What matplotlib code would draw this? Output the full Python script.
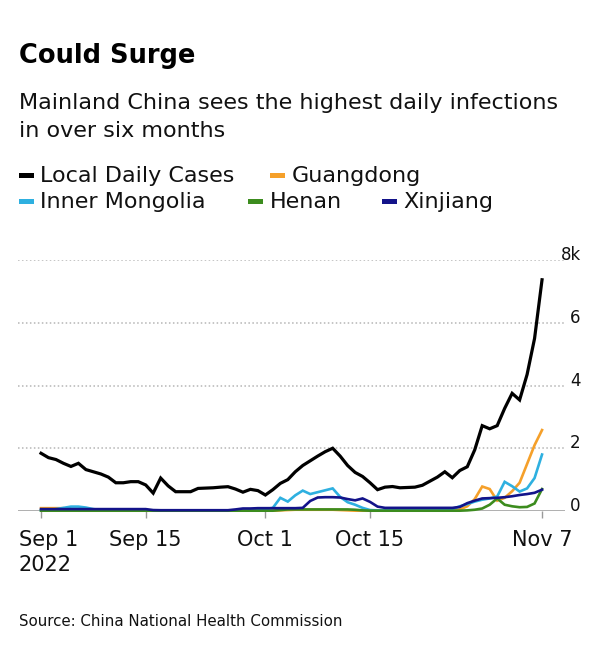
import numpy as np
import pandas as pd
import matplotlib
matplotlib.use('Agg')
import matplotlib.pyplot as plt
import matplotlib.transforms as mtransforms
from matplotlib.patches import Rectangle

# daily cases, Sep 1 - Nov 7 2022
dates = pd.date_range('2022-09-01', '2022-11-07', freq='D')

local_cases = [1840, 1700, 1640, 1520, 1420, 1520, 1320, 1250, 1180, 1080,
               900, 900, 935, 935, 830, 570, 1050, 800, 615, 615,
               615, 720, 730, 740, 760, 775, 700, 600, 690, 650,
               510, 680, 880, 1000, 1250, 1450, 1600, 1750, 1890, 2000,
               1750, 1450, 1230, 1100, 900, 680, 760, 780, 740, 750,
               760, 820, 950, 1080, 1250, 1060, 1290, 1410, 1950, 2720, 2620,
               2720, 3270, 3750, 3540, 4350, 5500, 7370]
guangdong = [90, 90, 90, 90, 30, 10, 10, 10, 10, 10,
             10, 10, 10, 10, 10, 10, 10, 10, 10, 10,
             10, 10, 10, 10, 10, 10, 10, 10, 10, 10,
             10, 10, 20, 30, 40, 40, 40, 40, 40, 40,
             30, 20, 10, 10, 10, 10, 10, 10, 10, 10,
             10, 10, 10, 10, 10, 20, 50, 150, 380, 780, 700,
             330, 420, 630, 900, 1500, 2100, 2580]
inner_mongolia = [20, 30, 60, 100, 140, 140, 110, 60, 30, 20,
                  15, 15, 15, 15, 15, 15, 15, 15, 15, 15,
                  15, 15, 15, 15, 15, 15, 15, 15, 15, 20,
                  60, 100, 420, 300, 500, 650, 540, 600, 660, 720,
                  450, 280, 200, 100, 30, 20, 20, 20, 20, 20,
                  20, 20, 20, 20, 30, 60, 150, 220, 300, 360, 400,
                  460, 930, 790, 620, 720, 1050, 1800]
henan = [10, 10, 10, 10, 10, 10, 10, 10, 10, 10,
         10, 10, 10, 10, 10, 10, 10, 10, 10, 10,
         10, 10, 10, 10, 10, 10, 10, 10, 10, 10,
         10, 10, 30, 50, 50, 50, 50, 50, 50, 50,
         50, 50, 40, 20, 10, 10, 10, 10, 10, 10,
         10, 10, 10, 10, 10, 10, 10, 20, 40, 80, 200,
         400, 200, 150, 120, 130, 240, 700]
xinjiang = [60, 60, 60, 60, 60, 60, 60, 60, 60, 60,
            60, 60, 60, 60, 60, 30, 25, 25, 25, 25,
            25, 25, 25, 25, 25, 25, 50, 80, 80, 90,
            90, 90, 90, 90, 90, 100, 320, 430, 440, 440,
            430, 380, 340, 400, 290, 140, 100, 100, 100, 100,
            100, 100, 100, 100, 100, 100, 130, 250, 330, 400, 410,
            420, 440, 470, 510, 540, 580, 680]

names = ['Local Daily Cases', 'Guangdong', 'Inner Mongolia', 'Henan', 'Xinjiang']
colors = ['#000000', '#f5a02a', '#2eb0e0', '#3c8c1e', '#13138a']

tick_dates = ['2022-09-01', '2022-09-15', '2022-10-01', '2022-10-15', '2022-11-07']
tick_labels = ['Sep 1\n2022', 'Sep 15', 'Oct 1', 'Oct 15', 'Nov 7']
y_ticks = [0, 2000, 4000, 6000, 8000]
y_labels = ['0', '2', '4', '6', '8k']

W, H = 600, 661


def fx(x):
    return x / W


def fy(y):
    return 1 - y / H


fig = plt.figure(figsize=(6, 6.61), dpi=100)
ax = fig.add_axes([fx(18), fy(511), 547 / W, (511 - 260) / H])

series = [guangdong, inner_mongolia, henan, xinjiang, local_cases]
series_colors = [colors[1], colors[2], colors[3], colors[4], colors[0]]
for vals, c in zip(series, series_colors):
    lw = 2.3 if c == '#000000' else 1.9
    ax.plot(dates, vals, color=c, lw=lw, clip_on=False, zorder=3,
            solid_joinstyle='miter')

# grid + baseline
for yv in y_ticks[1:]:
    ax.axhline(yv, color='#b5b5b5', lw=1.1, ls=(0, (1, 1.6)), zorder=1)
ax.axhline(0, color='#9a9a9a', lw=1.1, zorder=2)

ax.set_xlim(dates[0] - pd.Timedelta(days=3.08), dates[-1] + pd.Timedelta(days=3.07))
ax.set_ylim(0, 8000)
for s in ax.spines.values():
    s.set_visible(False)
ax.set_yticks([])
ax.set_xticks(pd.to_datetime(tick_dates))
ax.set_xticklabels(tick_labels, fontsize=15, color='#111111')
ax.tick_params(axis='x', length=5, width=1, color='#9a9a9a', pad=9)
labels = ax.get_xticklabels()
labels[0].set_linespacing(1.3)
labels[0].set_multialignment('left')
labels[0].set_transform(labels[0].get_transform() +
                        mtransforms.ScaledTranslation(0.075, 0, fig.dpi_scale_trans))

for yv, lab in zip(y_ticks, y_labels):
    ax.annotate(lab, xy=(1.029, yv), xycoords=('axes fraction', 'data'),
                xytext=(0, 3.6), textcoords='offset points',
                ha='right', va='center', fontsize=12, color='#111111',
                annotation_clip=False)

# title and subtitle
fig.text(fx(19), fy(62.7), 'Could Surge', fontsize=18.5, fontweight='bold',
         va='baseline', ha='left', color='#000000')
fig.text(fx(19), fy(109.3), 'Mainland China sees the highest daily infections',
         fontsize=16, va='baseline', ha='left', color='#111111')
fig.text(fx(19), fy(136.7), 'in over six months',
         fontsize=16, va='baseline', ha='left', color='#111111')

# legend
leg_marker_x = [19, 270, 19, 248, 381.5]
leg_row_y = [175, 175, 201.7, 201.7, 201.7]
leg_base_y = [182.3, 182.3, 208.3, 208.3, 208.3]
for name, c, mx, my, by in zip(names, colors, leg_marker_x, leg_row_y, leg_base_y):
    fig.add_artist(Rectangle((fx(mx), fy(my + 2.5)), 15 / W, 5 / H,
                             transform=fig.transFigure, color=c, lw=0))
    fig.text(fx(mx + 21.5), fy(by), name, fontsize=16, va='baseline',
             ha='left', color='#111111')

fig.text(fx(19), fy(626), 'Source: China National Health Commission',
         fontsize=10.8, va='baseline', ha='left', color='#111111')

fig.savefig('out.png', dpi=100, facecolor='white')
